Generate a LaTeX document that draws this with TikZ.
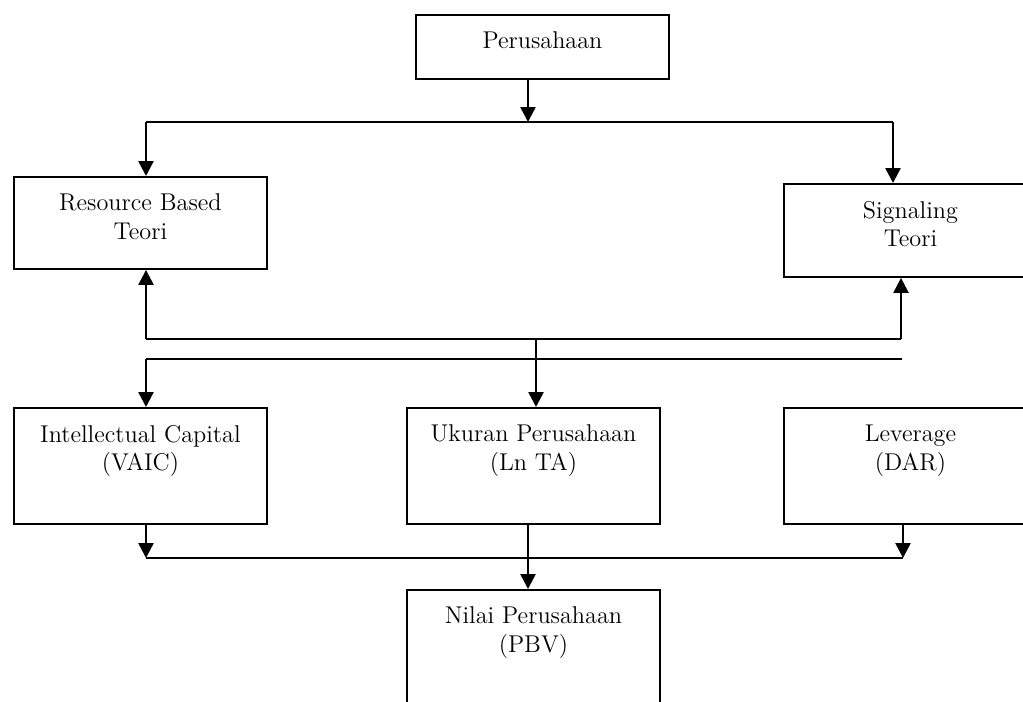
\documentclass[tikz,border=0pt]{standalone}
\usetikzlibrary{arrows.meta}
\tikzstyle{box} = [draw, rectangle, line width=1.1pt, anchor=north west,
   minimum width=5.06cm, minimum height=2.32cm, inner sep=0pt]
\tikzstyle{boxtext} = [anchor=north, align=center, inner sep=0pt, yshift=-10pt,
   font=\fontsize{13.8}{16.5}\selectfont]
\tikzstyle{link} = [line width=1.1pt]
\tikzstyle{arr} = [line width=1.4pt, -{Triangle[width=0.3cm,length=0.3cm]}]
\begin{document}
\begin{tikzpicture}[x=0.02cm, y=-0.02cm]
  \useasboundingbox (0,0) rectangle (1023,701);
  \clip (0,0) rectangle (1023,701);

  \node[box, minimum height=1.28cm, label={[boxtext]north:Perusahaan}] (per) at (415,14) {};
  \node[box, minimum height=1.84cm, label={[boxtext]north:Resource Based\\Teori}] (rbt) at (13,176) {};
  \node[box, minimum height=1.86cm, label={[boxtext]north:Signaling\\Teori}] (sig) at (783,183) {};
  \node[box, label={[boxtext]north:Intellectual Capital\\(VAIC)}] (ic) at (13,407) {};
  \node[box, label={[boxtext]north:Ukuran Perusahaan\\(Ln TA)}] (ukr) at (406,407) {};
  \node[box, label={[boxtext]north:Leverage\\(DAR)}] (lev) at (783,407) {};
  \node[box, label={[boxtext]north:Nilai Perusahaan\\(PBV)}] (nil) at (406,589) {};

  % junction points
  \coordinate (t0) at (528,122);
  \coordinate (tl) at (146,122);
  \coordinate (tr) at (893,122);
  \coordinate (ml) at (146,339);
  \coordinate (mm) at (536,339);
  \coordinate (mr) at (901,339);
  \coordinate (ll) at (146,359);
  \coordinate (lr) at (902,359);
  \coordinate (bl) at (146,558);
  \coordinate (bm) at (528,558);
  \coordinate (br) at (903,558);

  % top: Perusahaan to both theories
  \draw[arr] (per.south -| t0) -- (t0);
  \draw[link] (tl) -- (tr);
  \draw[arr] (tl) -- (tl |- rbt.north);
  \draw[arr] (tr) -- (tr |- sig.north);

  % middle
  \draw[link] (ml) -- (mr);
  \draw[arr] (ml) -- (ml |- rbt.south);
  \draw[arr] (mr) -- (mr |- sig.south);
  \draw[arr] (mm) -- (mm |- ukr.north);
  \draw[link] (lr) -- (ll);
  \draw[arr] (ll) -- (ll |- ic.north);

  % bottom: into Nilai Perusahaan
  \draw[arr] (ic.south -| bl) -- (bl);
  \draw[arr] (lev.south -| br) -- (br);
  \draw[link] (bl) -- (br);
  \draw[arr] (ukr.south -| bm) -- (nil.north -| bm);
\end{tikzpicture}
\end{document}
